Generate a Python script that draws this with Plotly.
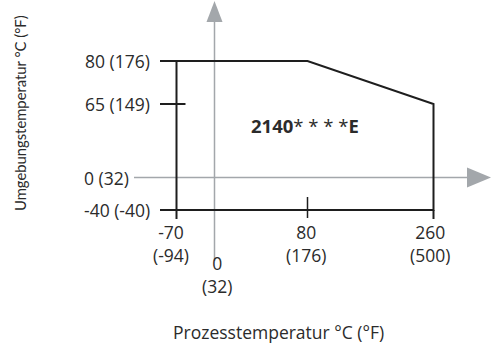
import numpy as np
import plotly.graph_objects as go

# ---- data (°C with °F in brackets) ----
proc_vals = [-70, 0, 80, 260]              # process temperature ticks
proc_labels = ["-70<br>(-94)", "0<br>(32)", "80<br>(176)", "260<br>(500)"]
amb_vals = [80, 65, 0, -40]                # ambient temperature ticks
amb_labels = ["80 (176)", "65 (149)", "0 (32)", "-40 (-40)"]
# permissible range polygon
env_proc = [-70, -70, 80, 260, 260, -70]
env_amb = [-40, 80, 80, 65, -40, -40]
series_label = "<b>2140</b>* * * *<b>E</b>"
x_title = "Prozesstemperatur °C (°F)"
y_title = "Umgebungstemperatur °C (°F)"

# ---- schematic (non-linear) scales: value -> page unit ----
X_KNOTS_V = [-70, 0, 80, 260]
X_KNOTS_P = [176.5, 214.5, 307.5, 433.5]
Y_KNOTS_V = [-40, 0, 65, 80]
Y_KNOTS_P = [210.0, 177.5, 104.0, 61.0]


def sx(v):
    return np.interp(v, X_KNOTS_V, X_KNOTS_P)


def sy(v):
    return np.interp(v, Y_KNOTS_V, Y_KNOTS_P)


W, H = 491, 343
FONT = "Open Sans"
TXT = "#2b2b2b"
AX = "#a3a7ab"
LINE = "#1e1e1e"
FS = 17.5

fig = go.Figure()

# gray coordinate axes (through 0/0)
x0p, y0p = float(sx(0)), float(sy(0))
fig.add_trace(go.Scatter(x=[134, 468], y=[y0p, y0p], mode="lines",
                         line=dict(color=AX, width=1.5), hoverinfo="skip"))
fig.add_trace(go.Scatter(x=[x0p, x0p], y=[261, 21], mode="lines",
                         line=dict(color=AX, width=1.5), hoverinfo="skip"))
# arrow heads
fig.add_trace(go.Scatter(x=[467, 491, 467, 467], y=[y0p - 10, y0p, y0p + 10, y0p - 10],
                         mode="lines", fill="toself", fillcolor=AX,
                         line=dict(color=AX, width=0), hoverinfo="skip"))
fig.add_trace(go.Scatter(x=[x0p - 8, x0p, x0p + 8, x0p - 8], y=[22, 1, 22, 22],
                         mode="lines", fill="toself", fillcolor=AX,
                         line=dict(color=AX, width=0), hoverinfo="skip"))

# envelope
fig.add_trace(go.Scatter(x=sx(np.array(env_proc)), y=sy(np.array(env_amb)), mode="lines",
                         line=dict(color=LINE, width=2), hoverinfo="skip"))

# tick stubs
stub = dict(color=LINE, width=2)
for v in [80, 65, -40]:
    fig.add_trace(go.Scatter(x=[160, float(sx(-70)) + (9 if v == 65 else 0)],
                             y=[float(sy(v))] * 2, mode="lines", line=stub, hoverinfo="skip"))
for v in [-70, 260]:
    fig.add_trace(go.Scatter(x=[float(sx(v))] * 2, y=[float(sy(-40)), 219],
                             mode="lines", line=stub, hoverinfo="skip"))
fig.add_trace(go.Scatter(x=[float(sx(80))] * 2, y=[float(sy(-40)) - 13, float(sy(-40)) + 8],
                         mode="lines", line=dict(color=LINE, width=1.5), hoverinfo="skip"))

# y tick labels
for v, t in zip(amb_vals, amb_labels):
    xr = 131 if v == 0 else 152
    fig.add_annotation(x=xr, y=float(sy(v)), text=t, showarrow=False, xanchor="right",
                       yanchor="middle", font=dict(family=FONT, size=FS, color=TXT))
# x tick labels
for v, t in zip(proc_vals, proc_labels):
    yt = 248.5 if v == 0 else 218
    dx = {-70: -5.5, 0: 2, 80: -2, 260: -4}[v]
    fig.add_annotation(x=float(sx(v)) + dx, y=yt, text=t, showarrow=False,
                       xanchor="center", yanchor="top",
                       font=dict(family=FONT, size=FS, color=TXT))

# series label
fig.add_annotation(x=305, y=125, text=series_label, showarrow=False,
                   font=dict(family=FONT, size=18.5, color=TXT))

# axis titles
fig.add_annotation(x=278, y=332, text=x_title, showarrow=False,
                   font=dict(family=FONT, size=17.5, color=TXT))
fig.add_annotation(x=19.5, y=113.5, text=y_title, showarrow=False, textangle=-90,
                   font=dict(family="Lato", size=14.8, color=TXT))

fig.update_layout(
    width=W, height=H, margin=dict(l=0, r=0, t=0, b=0),
    paper_bgcolor="white", plot_bgcolor="white", showlegend=False,
    xaxis=dict(range=[0, W], visible=False, fixedrange=True),
    yaxis=dict(range=[H, 0], visible=False, fixedrange=True),
)
fig.write_html("out.html", config=dict(displayModeBar=False),
               post_script="document.body.style.margin='0';document.body.style.overflow='hidden';")
